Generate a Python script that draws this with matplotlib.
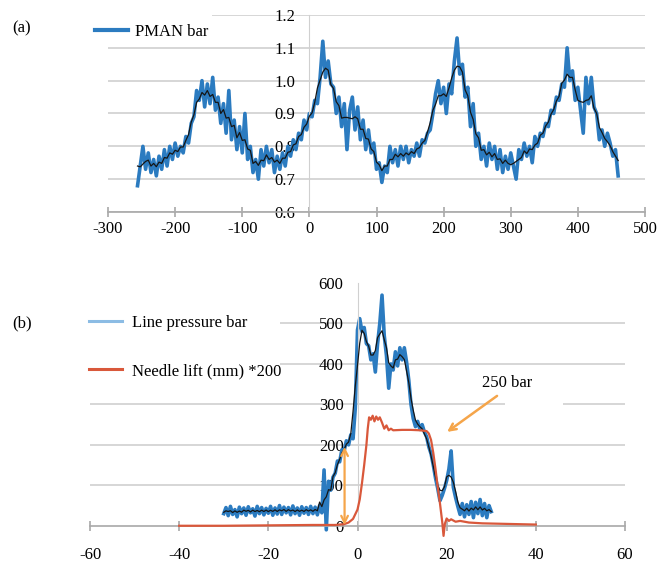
import numpy as np
import pandas as pd
import matplotlib
matplotlib.use("Agg")
import matplotlib.pyplot as plt
from matplotlib.lines import Line2D
from matplotlib.patches import Rectangle

plt.rcParams['font.family'] = ['Liberation Serif', 'DejaVu Serif']
plt.rcParams['font.size'] = 12
plt.rcParams['axes.unicode_minus'] = False

# (a) manifold pressure, one sample every 4 deg from -256 to 460
pman_deg = np.arange(-256, 461, 4)
pman_bar = [
    0.68, 0.74, 0.80, 0.73, 0.78, 0.72, 0.76, 0.71, 0.77, 0.73,
    0.79, 0.74, 0.80, 0.76, 0.81, 0.77, 0.80, 0.78, 0.83, 0.81,
    0.87, 0.89, 0.97, 0.94, 1.00, 0.92, 0.99, 0.93, 1.01, 0.91,
    0.95, 0.87, 0.93, 0.84, 0.97, 0.82, 0.88, 0.79, 0.86, 0.78,
    0.90, 0.76, 0.80, 0.72, 0.76, 0.70, 0.79, 0.74, 0.80, 0.75,
    0.79, 0.72, 0.77, 0.73, 0.78, 0.74, 0.80, 0.77, 0.82, 0.79,
    0.84, 0.82, 0.88, 0.85, 0.90, 0.89, 0.94, 0.93, 1.01, 1.12,
    1.01, 1.06, 0.99, 0.98, 0.90, 0.95, 0.86, 0.93, 0.79, 0.91,
    0.95, 0.85, 0.92, 0.82, 0.88, 0.79, 0.85, 0.78, 0.81, 0.73,
    0.75, 0.69, 0.74, 0.72, 0.80, 0.75, 0.79, 0.74, 0.80, 0.76,
    0.80, 0.75, 0.79, 0.77, 0.81, 0.77, 0.82, 0.81, 0.84, 0.85,
    0.90, 0.96, 1.00, 0.93, 0.98, 0.90, 0.99, 0.96, 1.06, 1.13,
    1.02, 1.05, 0.95, 0.98, 0.86, 0.93, 0.80, 0.84, 0.76, 0.80,
    0.74, 0.81, 0.76, 0.80, 0.73, 0.79, 0.72, 0.77, 0.73, 0.78,
    0.74, 0.70, 0.79, 0.76, 0.81, 0.77, 0.80, 0.75, 0.83, 0.80,
    0.84, 0.83, 0.87, 0.86, 0.91, 0.90, 0.95, 0.94, 0.99, 0.98,
    1.10, 1.00, 1.03, 0.94, 0.98, 0.91, 0.84, 1.01, 0.93, 1.01,
    0.92, 0.90, 0.82, 0.85, 0.80, 0.84, 0.81, 0.77, 0.79, 0.71,
]

# (b) line pressure, one sample every 0.5 deg from -30 to 30
lp_deg = np.arange(-30, 30.01, 0.5)
lp_bar = [
    30, 45, 25, 48, 28, 40, 22, 46, 30, 44,
    26, 47, 32, 42, 24, 48, 30, 45, 27, 43,
    31, 48, 26, 44, 29, 50, 28, 46, 32, 45,
    27, 49, 30, 44, 26, 47, 31, 45, 28, 48,
    30, 46, 27, 50, 32, 138, -10, 110, 88, 120,
    130, 160, 158, 188, 185, 210, 200, 225, 215, 290,
    484, 512, 480, 490, 450, 445, 410, 425, 380, 450,
    500, 570, 470, 420, 340, 400, 385, 430, 395, 440,
    410, 440, 405, 360, 300, 265, 245, 258, 238, 250,
    232, 220, 195, 178, 150, 118, 92, 62, 75, 92,
    112, 140, 185, 95, 70, 48, 28, 55, 22, 52,
    28, 60, 20, 58, 30, 65, 25, 55, 20, 50,
    35,
]

# needle lift (mm) * 200
nl_deg = [-40, -30, -20, -10, -5, -3, -2, -1, 0, 0.5, 1, 1.5, 2, 2.3, 2.6,
          3.0, 3.4, 3.8, 4.2, 4.6, 5.0, 5.5, 6.0, 6.5, 7.0, 7.5, 8, 10, 12,
          14, 15.5, 16, 16.5, 17, 17.5, 18, 18.5, 19, 19.3, 19.6, 20, 20.5,
          21, 22, 23, 25, 28, 32, 36, 40]
nl_val = [0, 0, 1, 2, 2, 4, 8, 17, 40, 65, 105, 150, 200, 240, 268,
          262, 272, 258, 270, 262, 268, 255, 240, 248, 236, 240, 236, 237, 237,
          236, 234, 228, 212, 180, 140, 95, 55, 10, -25, 5, 18, 12,
          16, 10, 12, 8, 6, 5, 4, 3]

blue = '#2b7bc0'
light_blue = '#8cbce4'
red = '#d9583b'
orange = '#f5a54a'
axis_gray = '#a8a8a8'
grid_gray = '#cccccc'

fig = plt.figure(figsize=(6.57, 5.77), dpi=100)


def style_axes(ax, ylabels_pad, xlabels_pad):
    for s in ['top', 'right']:
        ax.spines[s].set_visible(False)
    ax.spines['left'].set_position(('data', 0))
    ax.spines['left'].set_color('#d0d0d0')
    ax.spines['bottom'].set_color(axis_gray)
    ax.spines['bottom'].set_linewidth(1.2)
    ax.tick_params(axis='y', length=0, pad=ylabels_pad)
    ax.tick_params(axis='x', direction='inout', length=7, color=axis_gray,
                   width=1.2, pad=xlabels_pad)
    ax.yaxis.grid(True, color=grid_gray, linewidth=1.1)
    ax.set_axisbelow(True)


# ---- (a)
ax1 = fig.add_axes([108 / 657, 1 - 212 / 577, 537 / 657, 197 / 577])
style_axes(ax1, 10, 3)
ax1.set_xlim(-300, 500)
ax1.set_ylim(0.6, 1.2)
ax1.set_xticks(range(-300, 501, 100))
ax1.set_yticks([0.6, 0.7, 0.8, 0.9, 1.0, 1.1, 1.2])
ax1.set_yticklabels(['%.1f' % v for v in ax1.get_yticks()])
ax1.spines['left'].set_bounds(0.6, 1.2)

pman_mean = pd.Series(pman_bar).rolling(5, center=True, min_periods=1).mean()
ax1.plot(pman_deg, pman_bar, color=blue, lw=2.6, zorder=2)
ax1.plot(pman_deg, pman_mean, color='#151515', lw=0.9, zorder=3)

ax1.add_patch(Rectangle((105 / 657, 1 - 42 / 577), 107 / 657, 36 / 577,
                        transform=fig.transFigure, facecolor='white',
                        edgecolor='none', zorder=1, clip_on=False))
ax1.legend([Line2D([], [], color=blue, lw=3)], ['PMAN bar'],
           loc='upper left', bbox_to_anchor=(90 / 657, 1 - 19 / 577),
           bbox_transform=fig.transFigure, frameon=False, handlelength=2.0,
           handletextpad=0.4, borderpad=0.3, borderaxespad=0)
fig.text(12 / 657, 1 - 28 / 577, '(a)', ha='left', va='center')

# ---- (b)
ax2 = fig.add_axes([90 / 657, 1 - 546 / 577, 535 / 657, 263 / 577])
style_axes(ax2, 10, 12)
ax2.spines['bottom'].set_position(('data', 0))
ax2.set_xlim(-60, 60)
ax2.set_ylim(-50, 600)
ax2.set_xticks(range(-60, 61, 20))
ax2.set_yticks(range(0, 601, 100))
ax2.spines['left'].set_bounds(0, 600)
ax2.get_ygridlines()[0].set_visible(False)
ax2.get_ygridlines()[-1].set_visible(False)

lp_mean = pd.Series(lp_bar).rolling(5, center=True, min_periods=1).mean()
ax2.plot(lp_deg, lp_bar, color=blue, lw=2.6, zorder=2)
ax2.plot(lp_deg, lp_mean, color='#151515', lw=0.9, zorder=3)
ax2.plot(nl_deg, nl_val, color=red, lw=1.6, zorder=4)

ax2.annotate('', xy=(-2.9, 2), xytext=(-2.9, 195),
             arrowprops=dict(arrowstyle='<->', color=orange, lw=1.6,
                             shrinkA=0, shrinkB=0), zorder=5)
ax2.annotate('', xy=(20.1, 232), xytext=(31.3, 321),
             arrowprops=dict(arrowstyle='->', color=orange, lw=1.8,
                             shrinkA=0, shrinkB=0), zorder=5)
ax2.text(33.5, 353, '250 bar', ha='center', va='center', zorder=6)
ax2.add_patch(Rectangle((33.1, 290), 13, 20, facecolor='white',
                        edgecolor='none', zorder=1))

ax2.add_patch(Rectangle((84 / 657, 1 - 396 / 577), 196 / 657, 108 / 577,
                        transform=fig.transFigure, facecolor='white',
                        edgecolor='none', zorder=1, clip_on=False))
ax2.legend([Line2D([], [], color=light_blue, lw=2.2),
            Line2D([], [], color=red, lw=2.2)],
           ['Line pressure bar', 'Needle lift (mm) *200'],
           loc='upper left', bbox_to_anchor=(84 / 657, 1 - 310 / 577),
           bbox_transform=fig.transFigure, frameon=False, handlelength=2.0,
           handletextpad=0.6, labelspacing=1.93, borderpad=0.3,
           borderaxespad=0)
fig.text(12 / 657, 1 - 323 / 577, '(b)', ha='left', va='center')

fig.savefig('out.png', dpi=100)
